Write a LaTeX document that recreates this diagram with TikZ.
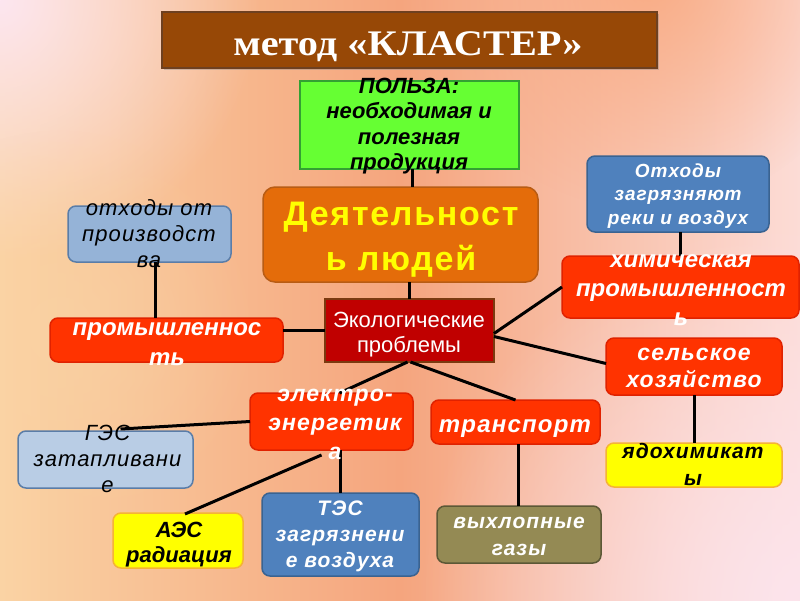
\documentclass[tikz,border=0pt]{standalone}
\usepackage{fontspec}
\setmainfont{Liberation Sans}
\newfontfamily\titlefont{Liberation Serif}
\newfontfamily\lsfont[LetterSpace=5]{Liberation Sans}
\usetikzlibrary{calc,fadings,shadows}
\definecolor{bgL}{HTML}{FAD3A4}
\definecolor{bgM}{HTML}{F5A57E}
\definecolor{bgR}{HTML}{FCDCD6}
\definecolor{pinkw}{HTML}{FDE6F0}
\definecolor{pinkb}{HTML}{FCE4EC}
\definecolor{salm}{HTML}{F9A67A}
\definecolor{titleF}{HTML}{974806}
\definecolor{titleD}{HTML}{6E4020}
\definecolor{greenF}{HTML}{66FF33}
\definecolor{greenD}{HTML}{33A033}
\definecolor{orF}{HTML}{E46C0A}
\definecolor{orD}{HTML}{B85C14}
\definecolor{ekF}{HTML}{C00000}
\definecolor{ekD}{HTML}{7A3A10}
\definecolor{redF}{HTML}{FF3300}
\definecolor{redD}{HTML}{E02200}
\definecolor{lbF}{HTML}{95B3D7}
\definecolor{lbD}{HTML}{5A7DA8}
\definecolor{llbF}{HTML}{B9CDE5}
\definecolor{bF}{HTML}{4F81BD}
\definecolor{bD}{HTML}{3A6391}
\definecolor{olF}{HTML}{948A54}
\definecolor{olD}{HTML}{5C5836}
\definecolor{yF}{HTML}{FFFF00}
\definecolor{yD}{HTML}{F5B335}
\definecolor{deyT}{HTML}{FFFF00}
\tikzfading[name=radfade, inner color=transparent!0, outer color=transparent!100]
\newcommand\mlines[6]{%
  \foreach \tline [count=\i] in {#6} {\node[#5] (#1\i) at (#2,{#3+(\i-1)*#4}) {\tline};}}
\begin{document}
\begin{tikzpicture}[x=1pt,y=-1pt,
  box/.style={draw, line width=1.5pt, rounded corners=8pt, inner sep=0pt, outer sep=0pt},
  sqbox/.style={draw, line width=1.5pt, inner sep=0pt, outer sep=0pt},
  redbox/.style={box, fill=redF, draw=redD},
  conn/.style={line width=3pt, black},
  txt/.style={anchor=base, inner sep=0pt, outer sep=0pt},
  wbi/.style={txt, text=white, font=\fontsize{#1}{#1}\selectfont\bfseries\itshape},
  wbils/.style={txt, text=white, font=\lsfont\fontsize{#1}{#1}\selectfont\bfseries\itshape},
  kbils/.style={txt, text=black, font=\lsfont\fontsize{#1}{#1}\selectfont\bfseries\itshape},
  kbi/.style={txt, text=black, font=\fontsize{#1}{#1}\selectfont\bfseries\itshape},
  kils/.style={txt, text=black, font=\lsfont\fontsize{#1}{#1}\selectfont\itshape}]
\useasboundingbox (0,0) rectangle (800,600);
% background
\shade[left color=bgL, right color=bgR, middle color=bgM] (0,0) rectangle (800,600);
\begin{scope}
\clip (0,0) rectangle (800,600);
\fill[pinkw, path fading=radfade] (0,0) circle (260pt);
\fill[pinkb, path fading=radfade] (800,600) circle (380pt);
\fill[salm, path fading=radfade, opacity=0.8] (650,-20) circle (230pt);
\fill[bgL, path fading=radfade, opacity=0.6] (60,330) circle (200pt);
\end{scope}
% boxes
\node[sqbox, fill=titleF, draw=titleD, minimum width=495pt, minimum height=56pt,
  drop shadow={opacity=0.35, shadow xshift=2pt, shadow yshift=-2pt}] (title) at (409.5,40) {};
\node[sqbox, fill=greenF, draw=greenD, minimum width=219pt, minimum height=88pt] (green) at (409.5,125) {};
\node[box, fill=orF, draw=orD, minimum width=275pt, minimum height=95pt, rounded corners=12pt] (dey) at (400.5,234.5) {};
\node[sqbox, fill=ekF, draw=ekD, minimum width=169pt, minimum height=63pt] (ekol) at (409.5,330.5) {};
\node[box, fill=lbF, draw=lbD, minimum width=163pt, minimum height=56pt] (otx) at (149.5,234) {};
\node[redbox, minimum width=233pt, minimum height=44pt] (prom) at (166.5,340) {};
\node[box, fill=bF, draw=bD, minimum width=182pt, minimum height=76pt] (otx2) at (678,194) {};
\node[redbox, minimum width=237pt, minimum height=62pt] (xim) at (680.5,287) {};
\node[redbox, minimum width=176pt, minimum height=57pt] (sel) at (694,366.5) {};
\node[box, fill=yF, draw=yD, minimum width=176pt, minimum height=44pt] (yad) at (694,465) {};
\node[redbox, minimum width=163pt, minimum height=57pt] (ele) at (331.5,421.5) {};
\node[redbox, minimum width=169pt, minimum height=44pt] (tra) at (515.5,422) {};
\node[box, fill=olF, draw=olD, minimum width=164pt, minimum height=57pt] (vyx) at (519,534.5) {};
\node[box, fill=llbF, draw=lbD, minimum width=175pt, minimum height=57pt] (ges) at (105.5,459.5) {};
\node[box, fill=yF, draw=yD, minimum width=130pt, minimum height=55pt] (aes) at (178,540.5) {};
\node[box, fill=bF, draw=bD, minimum width=157pt, minimum height=83pt] (tes) at (340.5,534.5) {};
% connectors
\draw[conn] ([xshift=2.5pt]green.south) -- ([xshift=2.5pt]green.south |- dey.north);
\draw[conn] (ekol.north |- dey.south) -- (ekol.north);
\draw[conn] ([xshift=5.5pt]otx.south) -- ([xshift=5.5pt]otx.south |- prom.north);
\draw[conn] (ekol.west -| prom.east) -- (ekol.west);
\draw[conn] (xim.north |- otx2.south) -- (xim.north);
\draw[conn] ([yshift=-3pt]ekol.east) -- (xim.west);
\draw[conn] ([yshift=-6pt]ekol.east) -- ([yshift=3pt]sel.west);
\draw[conn] (sel.south) -- (yad.north);
\draw[conn] ([xshift=-2pt]ekol.south) -- ([xshift=8pt]ele.north);
\draw[conn] ([xshift=1pt]ekol.south) -- (tra.north);
\draw[conn] ([xshift=2.5pt]tra.south) -- ([xshift=2.5pt]tra.south |- vyx.north);
\draw[conn] ($(ges.north)+(15,-2)$) -- (ele.west);
\draw[conn] ($(aes.north)+(7,1)$) -- ($(ele.south)+(-10,5)$);
\draw[conn] (tes.north |- ele.south) -- (tes.north);
% texts
\node[txt, text=white, font=\titlefont\fontsize{36}{36}\selectfont\bfseries] (ttl) at (408,55) {\scalebox{1.12}[1]{метод «КЛАСТЕР»}};
\mlines{g}{409}{93}{25.5}{kbi=22}{ПОЛЬЗА:,необходимая и,полезная,продукция}
\mlines{d}{401}{225}{45}{txt, text=deyT, font=\lsfont\fontsize{34}{34}\selectfont\bfseries}{Деятельност,ь людей}
\mlines{e}{409}{327}{25}{txt, text=white, font=\fontsize{22}{22}\selectfont}{Экологические,проблемы}
\mlines{o}{149}{215}{26}{kils=22}{отходы от,производст,ва}
\mlines{p}{167}{335}{30}{wbi=24}{промышленнос,ть}
\mlines{q}{678}{177}{23.5}{wbils=19}{Отходы,загрязняют,реки  и воздух}
\mlines{x}{681}{267}{29}{wbi=24}{химическая,промышленност,ь}
\mlines{s}{694}{360}{27}{wbils=23}{сельское,хозяйство}
\mlines{y}{693}{458}{27}{kbils=21}{ядохимикат,ы}
\mlines{l}{335}{401}{29}{wbils=23}{электро-,энергетик,а}
\mlines{t}{515}{432}{0}{wbils=24}{транспорт}
\mlines{v}{519}{528}{27}{wbils=21}{выхлопные,газы}
\mlines{h}{107.5}{440}{26}{kils=22}{ГЭС,затапливани,е}
\mlines{a}{179}{537}{25}{kbi=22}{АЭС,радиация}
\mlines{c}{340}{515}{26}{wbils=21}{ТЭС,загрязнени,е воздуха}
\end{tikzpicture}
\end{document}
